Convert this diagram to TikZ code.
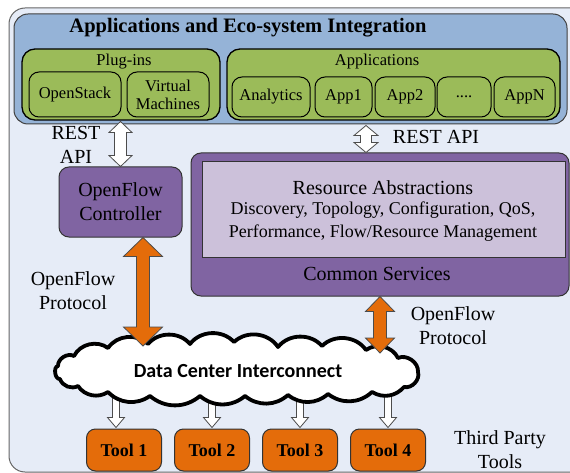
\documentclass[tikz,border=0pt]{standalone}
\usepackage{fontspec}
\setmainfont{Liberation Serif}
\newfontfamily\cloudfont{Carlito}
\usetikzlibrary{positioning,calc}

\definecolor{bgblue}{HTML}{E6ECF7}
\definecolor{layerblue}{HTML}{95B3D7}
\definecolor{appgreen}{HTML}{9BBB59}
\definecolor{ofpurple}{HTML}{8064A2}
\definecolor{lavender}{HTML}{CCC1DA}
\definecolor{toolorange}{HTML}{E46C0A}

% fat block arrows: style, top point, bottom point, half shaft, half head, head length
\newcommand{\dblarrow}[6]{%
  \draw[#1] let \p1=#2, \p2=#3 in
    (\x1,\y1) -- (\x1+#5,\y1-#6) -- (\x1+#4,\y1-#6) -- (\x1+#4,\y2+#6)
    -- (\x1+#5,\y2+#6) -- (\x1,\y2) -- (\x1-#5,\y2+#6) -- (\x1-#4,\y2+#6)
    -- (\x1-#4,\y1-#6) -- (\x1-#5,\y1-#6) -- cycle;}
\newcommand{\sglarrow}[6]{%
  \draw[#1] let \p1=#2, \p2=#3 in
    (\x2-#4,\y1) -- (\x2+#4,\y1) -- (\x2+#4,\y2+#6) -- (\x2+#5,\y2+#6)
    -- (\x2,\y2) -- (\x2-#5,\y2+#6) -- (\x2-#4,\y2+#6) -- cycle;}

\begin{document}
\begin{tikzpicture}[x=1pt, y=-1pt, font=\fontsize{20}{24}\selectfont,
  layer/.style = {draw=black!75, line width=1pt, fill=layerblue, rounded corners=14pt},
  group/.style = {draw, line width=1.3pt, fill=appgreen, rounded corners=13pt},
  app/.style = {draw, line width=1pt, fill=appgreen, rounded corners=10pt, inner sep=0pt, font=\fontsize{16.5}{18}\selectfont},
  small/.style = {font=\fontsize{16.5}{18}\selectfont},
  ctrl/.style = {draw=black!80, line width=1pt, fill=ofpurple, rounded corners=10pt},
  tool/.style = {draw=black!80, line width=1pt, fill=toolorange, rounded corners=9pt, minimum width=75pt, minimum height=42pt, font=\fontsize{18}{20}\selectfont\bfseries},
  rest/.style = {draw=black!70, fill=white, line width=0.8pt},
  flow/.style = {draw=black!70, fill=toolorange, line width=0.8pt},
  cloudline/.style = {draw, line width=3.8pt, fill=white, line join=round}]
\useasboundingbox (0,0) rectangle (570,473);
\draw[draw=black!60, fill=bgblue, line width=1pt, rounded corners=16pt] (9,8) rectangle (600,472);

% applications layer
\node[layer, minimum width=553pt, minimum height=110pt] (top) at (290.5,69) {};
\node[font=\fontsize{20.5}{24}\selectfont\bfseries] (title) at (248,28) {Applications and Eco-system Integration};
\node[group, minimum width=198pt, minimum height=71pt] (plugins) at (121,84.5) {};
\node[small] (pluglabel) at (124,62) {Plug-ins};
\node[app, minimum width=92pt, minimum height=45pt] (openstack) at (75,94.5) {OpenStack};
\node[app, minimum width=82pt, minimum height=45pt, align=center] (vm) at (168,94.5) {Virtual\\Machines};
\node[group, minimum width=333pt, minimum height=71pt] (apps) at (393.5,84.5) {};
\node[small] (applabel) at (377,62) {Applications};
\node[app, minimum width=78pt, minimum height=40pt] (analytics) at (271,97) {Analytics};
\node[app, minimum width=57pt, minimum height=40pt] (app1) at (343.5,97) {App1};
\node[app, minimum width=60pt, minimum height=40pt] (app2) at (405,97) {App2};
\node[app, minimum width=54pt, minimum height=40pt] (dots) at (464,97) {....};
\node[app, minimum width=61pt, minimum height=40pt] (appn) at (524.5,97) {AppN};

% control layer
\node[ctrl, minimum width=123pt, minimum height=70pt, align=center] (ctrl) at (120.5,202) {OpenFlow\\Controller};
\node[ctrl, minimum width=378pt, minimum height=143pt] (services) at (380,224.5) {};
\node[draw=black!80, line width=1pt, fill=lavender, minimum width=363pt, minimum height=95pt] (abstr) at (383.5,209.5) {};
\node (abstrtitle) at (383,188) {Resource Abstractions};
\node[align=center, font=\fontsize{18}{23}\selectfont] (abstrlist) at (383,221.5) {Discovery, Topology, Configuration, QoS,\\Performance, Flow/Resource Management};
\node (servlabel) at (377,274) {Common Services};

% tools
\node[tool] (tool1) at (124,450) {Tool 1};
\node[tool, right=12pt of tool1] (tool2) {Tool 2};
\node[tool, right=12pt of tool2] (tool3) {Tool 3};
\node[tool, right=12pt of tool3] (tool4) {Tool 4};
\coordinate (dcimid) at (238,371);
\sglarrow{rest}{($(dcimid)+(0,20)$)}{($(tool1.north)+(-8,-1)$)}{3.5pt}{8.5pt}{10pt}
\sglarrow{rest}{($(dcimid)+(0,20)$)}{($(tool2.north)+(0,-1)$)}{3.5pt}{8.5pt}{10pt}
\sglarrow{rest}{($(dcimid)+(0,20)$)}{($(tool3.north)+(0,-1)$)}{3.5pt}{8.5pt}{10pt}
\sglarrow{rest}{($(dcimid)+(0,16)$)}{($(tool4.north)+(0,-1)$)}{3.5pt}{8.5pt}{10pt}

% network cloud
\draw[cloudline] (58,366) to[bend left=60] (74,356) to[bend left=50] (108,348)
  to[bend left=50] (148,344) to[bend left=50] (190,344) to[bend left=50] (234,342)
  to[bend left=50] (278,347) to[bend left=50] (322,346) to[bend left=50] (366,350)
  to[bend left=50] (398,358) to[bend left=60] (418,372) to[bend left=60] (404,387)
  to[bend left=40] (372,392) to[bend left=40] (328,394) to[bend left=40] (288,395)
  to[bend left=40] (245,396) to[bend left=40] (200,396) to[bend left=40] (150,396)
  to[bend left=40] (108,392) to[bend left=45] (78,386) to[bend left=50] (60,379)
  to[bend left=90] (58,366) -- cycle;
\node[font=\cloudfont\bfseries\fontsize{20}{24}\selectfont] (dci) at (dcimid) {Data Center Interconnect};

% labels
\node[align=center] (restleft) at (76,145) {REST\\API};
\node (restright) at (436,137) {REST API};
\node[align=center] (flowleft) at (73,291) {OpenFlow\\Protocol};
\node[align=center] (flowright) at (453,326) {OpenFlow\\Protocol};
\node[align=center] (third) at (500,450) {Third Party\\Tools};

% arrows
\dblarrow{rest}{($(ctrl.north |- top.south)+(0,-3)$)}{(ctrl.north)}{6pt}{11.5pt}{11pt}
\dblarrow{rest}{($(services.north |- top.south)+(-14,1)$)}{(services.north)}{5.5pt}{12pt}{10pt}
\dblarrow{flow}{($(ctrl.south)+(22.5,0)$)}{($(dci.center)+(0,-25)$)}{6.5pt}{19.5pt}{19pt}
\dblarrow{flow}{(services.south)}{($(dci.center)+(0,-18)$)}{6.5pt}{14.5pt}{15pt}
\end{tikzpicture}
\end{document}
